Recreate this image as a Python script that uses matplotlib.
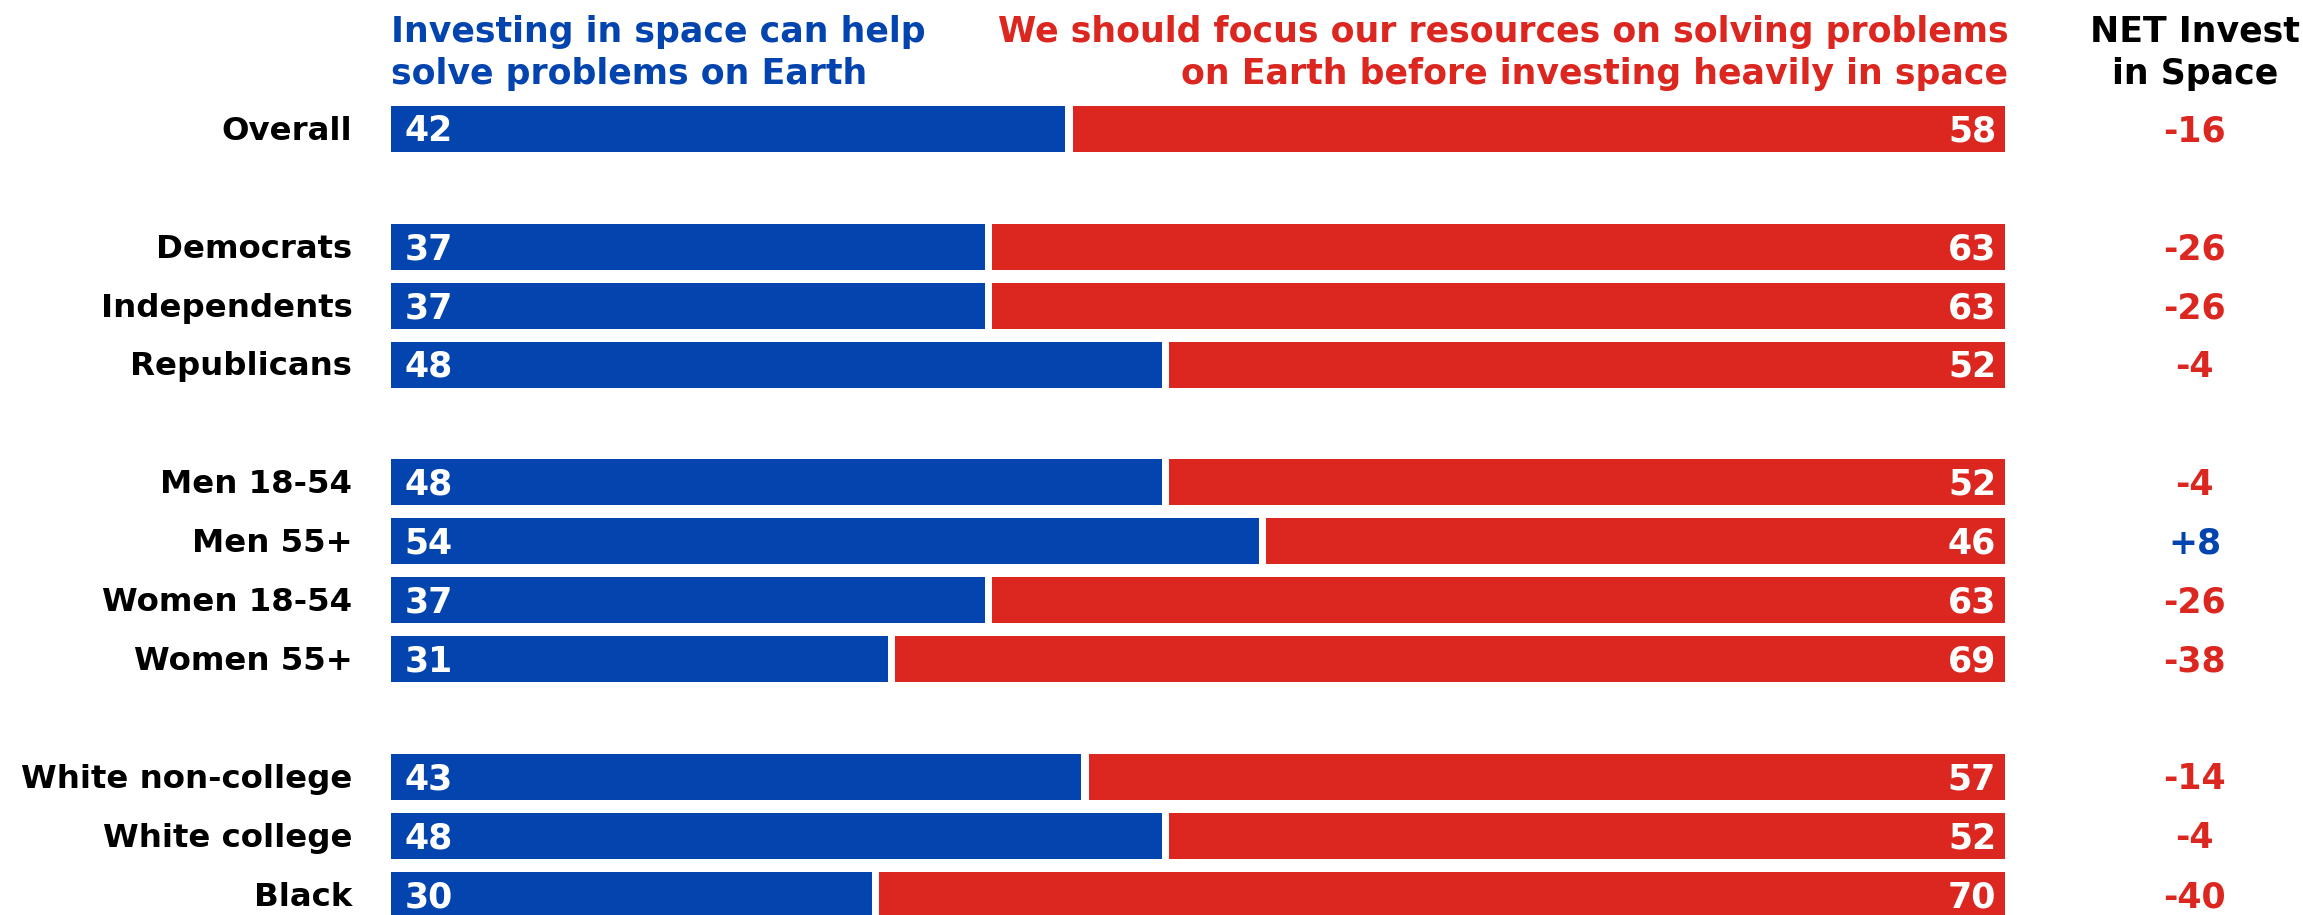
import numpy as np
import matplotlib.pyplot as plt

# data
groups = ["Overall", "Democrats", "Independents", "Republicans",
          "Men 18-54", "Men 55+", "Women 18-54", "Women 55+",
          "White non-college", "White college", "Black"]
rows = [0, 2, 3, 4, 6, 7, 8, 9, 11, 12, 13]
invest = [42, 37, 37, 48, 48, 54, 37, 31, 43, 48, 30]
focus_earth = [58, 63, 63, 52, 52, 46, 63, 69, 57, 52, 70]
net = [-16, -26, -26, -4, -4, 8, -26, -38, -14, -4, -40]

BLUE = "#0444AF"
RED = "#DC2620"
FONT = "DejaVu Sans"

W, H = 2303, 915
fig = plt.figure(figsize=(W / 100, H / 100), dpi=100)

# axes placed so that 0..100 spans the bar area in pixels
x0_px, x1_px = 391, 2005
row0_px, row_px = 129, 58.9
ax = fig.add_axes([x0_px / W, 0, (x1_px - x0_px) / W, 1])
ax.set_xlim(0, 100)
ax.set_ylim((H - row0_px) / row_px, -row0_px / row_px)
ax.axis("off")

gap = 0.45
bh = 0.78
inv = np.array(invest)
foc = np.array(focus_earth)
ax.barh(rows, inv - gap / 2, height=bh, color=BLUE)
ax.barh(rows, foc - gap / 2, left=inv + gap / 2, height=bh, color=RED)

fs_lab = 23.3
fs_num = 25
fs_head = 25
dy = 0.04  # nudge text down so glyphs sit centred on the bars
for r, g, a, b, n in zip(rows, groups, invest, focus_earth, net):
    ax.text(-2.4, r + dy, g, ha="right", va="center", fontsize=fs_lab, fontweight="bold",
            family=FONT, color="black")
    ax.text(0.85, r + dy, str(a), ha="left", va="center", fontsize=fs_num, fontweight="bold",
            family=FONT, color="white")
    ax.text(99.45, r + dy, str(b), ha="right", va="center", fontsize=fs_num, fontweight="bold",
            family=FONT, color="white")
    lab = f"+{n}" if n > 0 else str(n)
    ax.text(111.75, r + dy, lab, ha="center", va="center", fontsize=fs_num, fontweight="bold",
            family=FONT, color=BLUE if n > 0 else RED)

# column headers
hy = -1.29
ax.text(0, hy, "Investing in space can help\nsolve problems on Earth", ha="left",
        va="center", fontsize=fs_head, fontweight="bold", family=FONT, color=BLUE,
        linespacing=1.33)
ax.text(100.2, hy, "We should focus our resources on solving problems\non Earth before investing heavily in space",
        ha="right", va="center", fontsize=fs_head, fontweight="bold", family=FONT, color=RED,
        linespacing=1.33, multialignment="right")
ax.text(111.75, hy, "NET Invest\nin Space", ha="center", va="center", fontsize=fs_head,
        fontweight="bold", family=FONT, color="black", linespacing=1.33)

fig.savefig("out.png", dpi=100)
